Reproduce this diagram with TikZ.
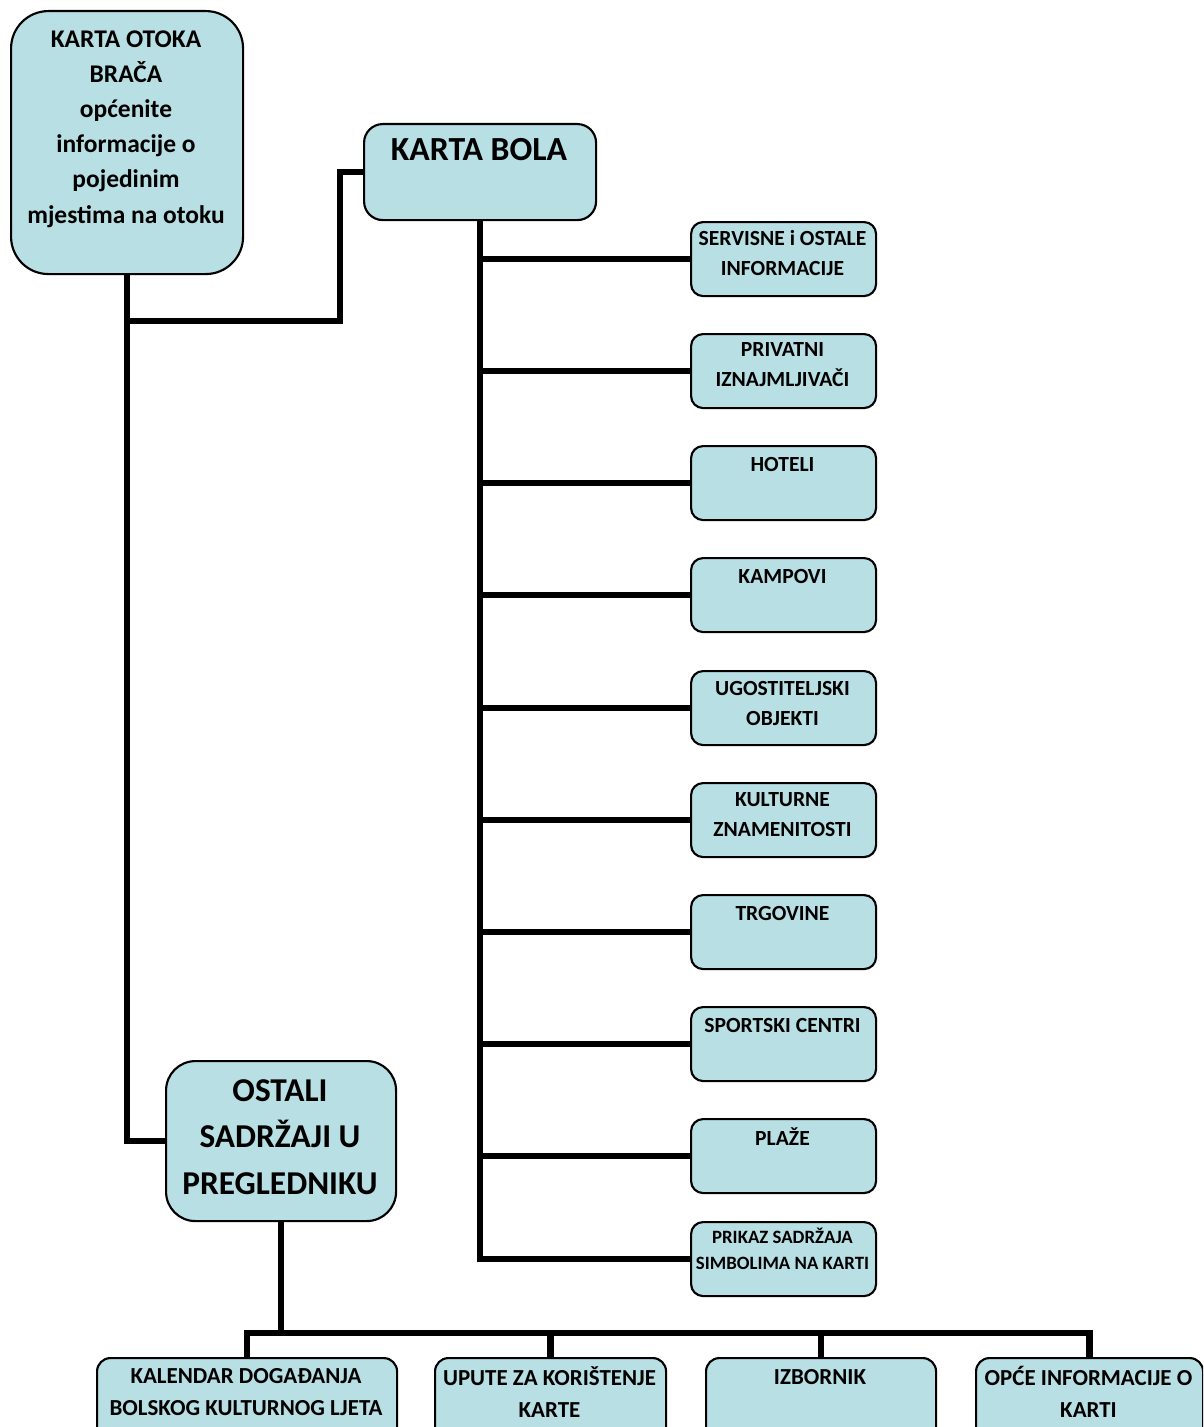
\documentclass[tikz,border=0pt]{standalone}
\usepackage{fontspec}
\setmainfont{Carlito}
\definecolor{boxfill}{RGB}{184,223,227}
\tikzset{
  box/.style={draw=black, line width=1.6pt, fill=boxfill, rectangle, inner sep=0pt, anchor=north west},
  conn/.style={draw=black, line width=4.9pt},
  lbl/.style={inner sep=0pt, align=center},
}
\newcommand\mybox[6]{\node[box, rounded corners=#6, minimum width={#4*0.75pt}, minimum height={#5*0.75pt}] (#1) at (#2,#3) {};}
\newcommand\fs[2]{\fontsize{#1}{#2}\selectfont\bfseries}
\begin{document}
\begin{tikzpicture}[x=0.75pt,y=-0.75pt]
\useasboundingbox (0,0) rectangle (1203,1427);
\clip (0,0) rectangle (1203,1427);
\coordinate (j1) at (340,321);
\coordinate (busy) at (0,1333);
% boxes
\mybox{A}{10}{10}{232}{263}{28pt}
\mybox{B}{363}{123}{232}{96}{14pt}
\mybox{C}{165}{1060}{230}{160}{22pt}
\mybox{s1}{690}{221}{185}{74}{9pt}
\mybox{s2}{690}{333}{185}{74}{9pt}
\mybox{s3}{690}{445}{185}{74}{9pt}
\mybox{s4}{690}{557}{185}{74}{9pt}
\mybox{s5}{690}{670}{185}{74}{9pt}
\mybox{s6}{690}{782}{185}{74}{9pt}
\mybox{s7}{690}{894}{185}{74}{9pt}
\mybox{s8}{690}{1006}{185}{74}{9pt}
\mybox{s9}{690}{1118}{185}{74}{9pt}
\mybox{s10}{690}{1221}{185}{74}{9pt}
\mybox{d1}{96}{1357}{300}{100}{10pt}
\mybox{d2}{434}{1357}{231}{100}{10pt}
\mybox{d3}{705}{1357}{230}{100}{10pt}
\mybox{d4}{975}{1357}{227}{100}{10pt}
% connectors
\draw[conn] (A.south) |- (j1) |- (B.west);
\draw[conn] (A.south) |- (C.west);
\draw[conn] (B.south) |- (s10.west);
\foreach \s in {s1,s2,s3,s4,s5,s6,s7,s8,s9}{
  \draw[conn] (B.south |- \s.west) -- (\s.west);
}
\draw[conn] (C.south) -- (C.south |- busy);
\draw[conn] (d1.north) -- (d1.north |- busy) -- (d4.north |- busy) -- (d4.north);
\draw[conn] (d2.north) -- (d2.north |- busy);
\draw[conn] (d3.north) -- (d3.north |- busy);
% texts
\node[lbl, font=\fs{19.1}{26.4}] (tA) at (126,129) {KARTA OTOKA\\BRAČA\\općenite\\informacije o\\pojedinim\\mjestima na otoku};
\node[lbl, font=\fs{25.3}{30}] (tB) at (479,150) {KARTA BOLA};
\node[lbl, font=\fs{25}{35}] (tC) at (280,1137) {OSTALI\\SADRŽAJI U\\PREGLEDNIKU};
\node[lbl, font=\fs{16.2}{22.5}] (t1) at (782.5,253) {SERVISNE i OSTALE\\INFORMACIJE};
\node[lbl, font=\fs{16.2}{22.5}] (t2) at (782.5,365) {PRIVATNI\\IZNAJMLJIVAČI};
\node[lbl, font=\fs{16.2}{22.5}] (t3) at (782.5,464) {HOTELI};
\node[lbl, font=\fs{16.2}{22.5}] (t4) at (782.5,576) {KAMPOVI};
\node[lbl, font=\fs{16.2}{22.5}] (t5) at (782.5,703) {UGOSTITELJSKI\\OBJEKTI};
\node[lbl, font=\fs{16.2}{22.5}] (t6) at (782.5,815) {KULTURNE\\ZNAMENITOSTI};
\node[lbl, font=\fs{16.2}{22.5}] (t7) at (782.5,913) {TRGOVINE};
\node[lbl, font=\fs{16.2}{22.5}] (t8) at (782.5,1025) {SPORTSKI CENTRI};
\node[lbl, font=\fs{16.2}{22.5}] (t9) at (782.5,1137) {PLAŽE};
\node[lbl, font=\fs{14.1}{19.5}] (t10) at (782.5,1249) {PRIKAZ SADRŽAJA\\SIMBOLIMA NA KARTI};
\node[lbl, font=\fs{17.2}{24}] (b1) at (246,1392) {KALENDAR DOGAĐANJA\\BOLSKOG KULTURNOG LJETA};
\node[lbl, font=\fs{17.2}{24}] (b2) at (549.5,1392) {UPUTE ZA KORIŠTENJE\\KARTE};
\node[lbl, font=\fs{17.2}{24}] (b3) at (820,1377) {IZBORNIK};
\node[lbl, font=\fs{17.2}{24}] (b4) at (1088.5,1392) {OPĆE INFORMACIJE O\\KARTI};
\end{tikzpicture}
\end{document}
